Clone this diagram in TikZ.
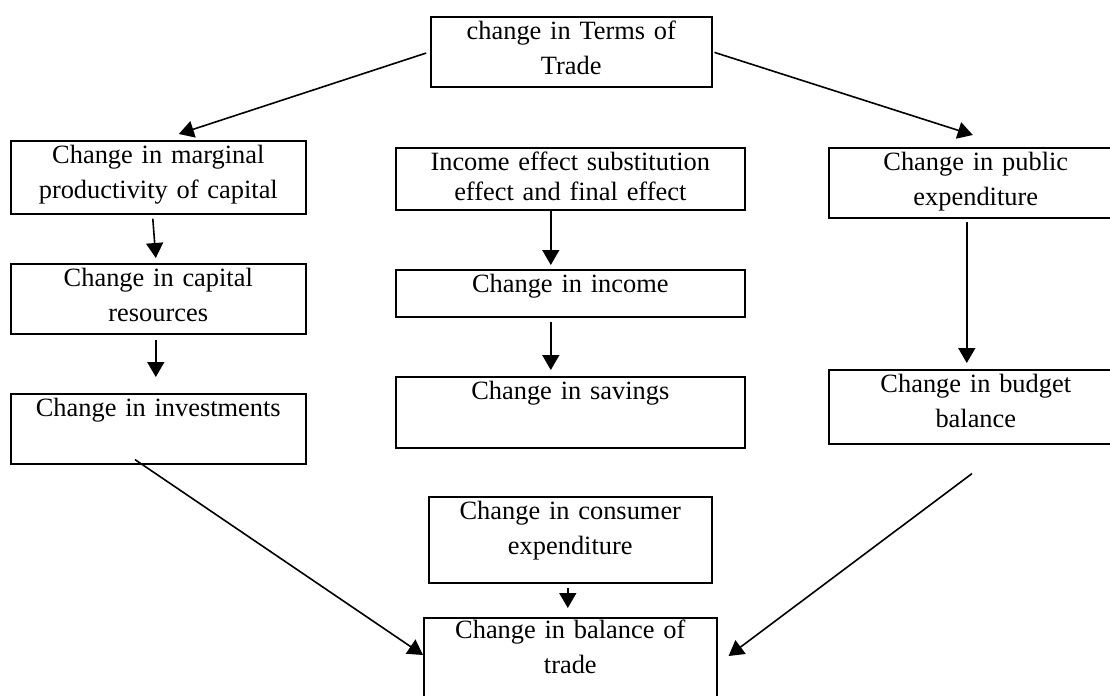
\documentclass[tikz,border=0pt]{standalone}
\usepackage{fontspec}
\setmainfont{Liberation Serif}
\usetikzlibrary{arrows.meta}

\tikzset{
  box/.style={draw, line width=0.8pt, anchor=north west, inner sep=0pt,
    align=center, text height=11.5pt},
  arr/.style={-{Triangle[length=7.5pt,width=8.5pt]}, line width=0.8pt},
}

\begin{document}
\begin{tikzpicture}[x=0.5pt, y=-0.5pt, every node/.style={font=\fontsize{13.2}{17.5}\selectfont}]
\useasboundingbox (0,0) rectangle (1110,696);
\clip (0,0) rectangle (1110,696);

% Causa
\node[box, text width=140.5pt, text depth=23.5pt] (tot) at (430,16) {change in Terms of\\Trade};

% Colonna sinistra
\node[box, text width=147.5pt, text depth=25pt] (marg) at (10,140) {Change in marginal\\productivity of capital};
\node[box, text width=147.5pt, text depth=23.5pt] (cap) at (10,263) {Change in capital\\resources};
\node[box, text width=147.5pt, text depth=23.5pt] (inv) at (10,393) {Change in investments};

% Colonna centrale
\node[box, text width=174.5pt, text depth=19.5pt, font=\fontsize{13.2}{15}\selectfont] (effects) at (395,147) {Income effect substitution\\effect and final effect};
\node[box, text width=174.5pt, text depth=12pt] (inc) at (395,269) {Change in income};
\node[box, text width=174.5pt, text depth=24pt] (sav) at (395,376) {Change in savings};

% Colonna destra
\node[box, text width=147pt, text depth=23.5pt] (pub) at (828,147) {Change in public\\expenditure};
\node[box, text width=147pt, text depth=25.5pt] (bud) at (828,369) {Change in budget\\balance};

% Effetto finale
\node[box, text width=141.5pt, text depth=31.5pt] (cons) at (428,496) {Change in consumer\\expenditure};
\node[box, text width=146.5pt, text height=10.5pt, text depth=39.5pt] (bal) at (423,617) {Change in balance of\\trade};

% Frecce
\draw[arr, shorten <=2pt] (tot.west) -- ([shift={(20.5,-6)}]marg.north);
\draw[arr, shorten <=1pt] (tot.east) -- ([shift={(-3,-12)}]pub.north);

\draw[arr] ([shift={(-5.5,4)}]marg.south) -- ([shift={(-2.5,-5)}]cap.north);
\draw[arr] ([shift={(-2.5,5)}]cap.south) -- ([shift={(-2.5,-16)}]inv.north);

\draw[arr] ([shift={(-19.5,0)}]effects.south) -- ([shift={(-19.5,-4)}]inc.north);
\draw[arr] ([shift={(-19.5,4)}]inc.south) -- ([shift={(-19.5,-6)}]sav.north);

\draw[arr] ([shift={(-9,3)}]pub.south) -- ([shift={(-9,-6)}]bud.north);

\draw[arr] ([shift={(-2.5,4)}]cons.south) -- ([shift={(-2.5,-9)}]bal.north);
\draw[arr] ([shift={(125,-5)}]inv.south west) -- ([shift={(0,38)}]bal.north west);
\draw[arr] ([shift={(144,29)}]bud.south west) -- ([shift={(11,39)}]bal.north east);
\end{tikzpicture}
\end{document}
